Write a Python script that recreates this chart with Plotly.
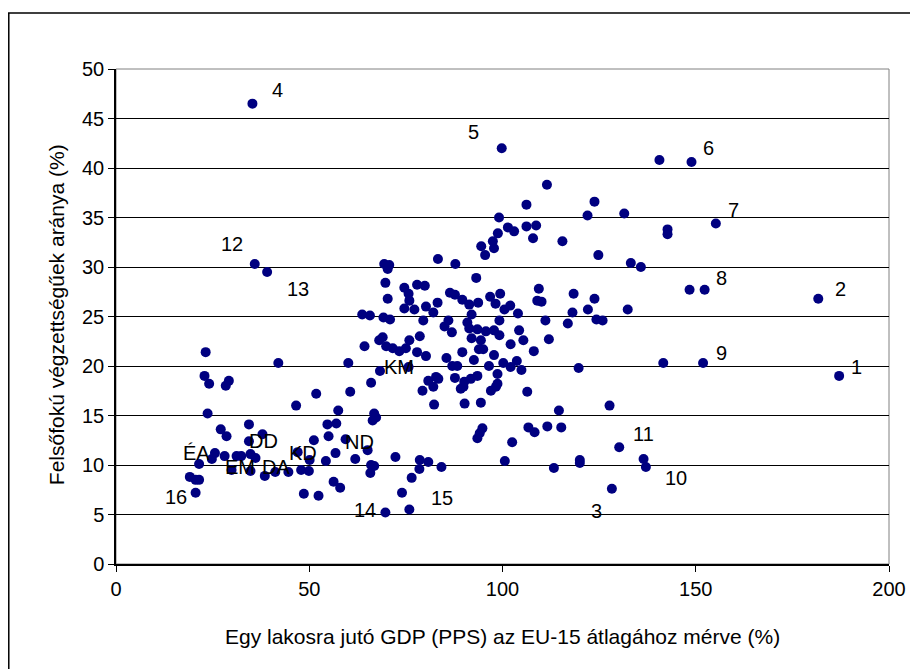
import plotly.graph_objects as go

# GDP per capita (PPS, EU-15 = 100) for each region
gdp = [
    23.2, 22.9, 24.1, 42.0, 60.1, 29.2, 28.4, 51.8, 60.6, 23.7,
    46.6, 57.5, 34.4, 54.7, 57.0, 27.1, 28.6, 37.9, 55.0, 51.2,
    34.4, 59.4, 25.6, 24.8, 28.1, 31.2, 32.4, 34.8, 36.1, 47.0,
    50.1, 56.8, 54.3, 61.9, 21.5, 29.9, 34.8, 38.5, 41.2, 44.6,
    47.9, 49.9, 19.1, 20.6, 21.5, 20.6, 48.6, 52.4, 56.3, 58.0,
    94.5, 97.8, 95.5, 83.3, 87.8, 69.4, 70.7, 70.3, 93.2, 69.7,
    74.6, 77.9, 79.9, 75.7, 70.3, 75.9, 74.6, 77.2, 80.2, 82.1,
    83.2, 86.4, 87.7, 89.6, 91.4, 93.7, 96.8, 99.4, 98.2, 100.5,
    102.0, 104.0, 92.0, 63.7, 65.7, 69.2, 70.9, 79.5, 86.0, 85.0,
    86.9, 90.9, 91.4, 99.2, 93.5, 95.7, 97.8, 99.2, 104.3, 92.0,
    94.4, 105.4, 78.6, 68.1, 69.0, 64.3, 69.9, 71.6, 73.3, 75.0,
    75.9, 77.9, 80.2, 89.6, 93.9, 97.8, 102.1, 108.1, 85.5, 92.6,
    87.0, 88.3, 96.5, 100.2, 102.1, 103.7, 104.9, 75.7, 68.3, 66.0,
    80.8, 82.8, 82.1, 83.4, 79.3, 82.3, 87.7, 90.1, 91.8, 93.5,
    89.2, 90.2, 94.4, 98.7, 98.7, 97.0, 106.4, 109.0, 109.4, 95.0,
    89.9, 98.3, 99.8, 111.5, 106.2, 123.8, 122.0, 131.5, 99.1, 101.4,
    103.0, 106.2, 108.7, 107.9, 98.8, 97.5, 115.5, 124.8, 133.2, 135.8,
    110.1, 118.4, 123.8, 132.4, 122.1, 118.1, 111.1, 116.9, 124.3, 125.9,
    66.8, 67.3, 66.4, 65.1, 66.0, 66.8, 65.8, 72.3, 78.6, 80.8,
    78.5, 84.2, 76.5, 74.0, 75.9, 69.7, 100.6, 102.5, 93.5, 94.1,
    94.8, 106.7, 108.3, 111.6, 115.2, 114.6, 113.3, 120.0, 120.0, 119.7,
    127.7, 128.3, 148.4, 152.3, 112.0, 141.6, 151.9, 130.2, 136.5, 137.1,
    140.6, 148.9, 155.2, 142.7, 142.7, 181.7, 35.3, 35.9, 39.1, 187.1,
]

# Share of population with tertiary education (%)
tertiary = [
    21.4, 19.0, 18.2, 20.3, 20.3, 18.5, 18.0, 17.2, 17.4, 15.2,
    16.0, 15.5, 14.1, 14.1, 14.2, 13.6, 12.9, 13.1, 12.9, 12.5,
    12.4, 12.6, 11.2, 10.6, 10.9, 10.9, 10.9, 11.1, 10.7, 11.3,
    10.5, 11.2, 10.4, 10.6, 10.1, 9.5, 9.4, 8.9, 9.3, 9.3,
    9.5, 9.4, 8.8, 8.5, 8.5, 7.2, 7.1, 6.9, 8.3, 7.7,
    32.1, 31.9, 31.2, 30.8, 30.3, 30.3, 30.2, 29.8, 28.9, 28.4,
    27.9, 28.2, 28.1, 27.3, 26.8, 26.6, 25.8, 25.7, 26.0, 25.4,
    26.4, 27.4, 27.2, 26.7, 26.2, 26.4, 27.0, 27.3, 26.3, 25.7,
    26.1, 25.3, 25.2, 25.2, 25.1, 24.9, 24.7, 24.6, 24.6, 24.0,
    23.4, 24.4, 23.8, 24.6, 23.7, 23.5, 23.6, 23.1, 23.6, 22.8,
    22.6, 22.6, 23.0, 22.6, 22.9, 22.0, 22.0, 21.8, 21.5, 21.8,
    22.6, 21.4, 21.0, 21.4, 21.7, 21.1, 22.2, 21.5, 20.8, 20.6,
    20.0, 20.0, 20.0, 20.3, 19.9, 20.5, 19.6, 19.9, 19.5, 18.3,
    18.5, 18.9, 17.9, 18.7, 17.5, 16.1, 18.8, 18.4, 18.7, 19.0,
    17.7, 16.2, 16.3, 19.2, 18.2, 17.5, 17.4, 26.6, 27.8, 21.7,
    17.9, 17.9, 42.0, 38.3, 36.3, 36.6, 35.2, 35.4, 35.0, 34.0,
    33.6, 34.1, 34.2, 32.9, 33.4, 32.6, 32.6, 31.2, 30.4, 30.0,
    26.5, 27.3, 26.8, 25.7, 25.7, 25.4, 24.6, 24.3, 24.7, 24.6,
    15.2, 14.8, 14.5, 11.5, 10.0, 9.9, 9.2, 10.8, 10.5, 10.3,
    9.6, 9.8, 8.7, 7.2, 5.5, 5.2, 10.4, 12.3, 12.7, 13.2,
    13.7, 13.8, 13.3, 13.9, 13.8, 15.5, 9.7, 10.5, 10.2, 19.8,
    16.0, 7.6, 27.7, 27.7, 22.7, 20.3, 20.3, 11.8, 10.6, 9.8,
    40.8, 40.6, 34.4, 33.8, 33.3, 26.8, 46.5, 30.3, 29.5, 19.0,
]

# Point labels (text and the data position of the text)
label_text = ["1", "2", "3", "4", "5", "6", "7", "8", "9", "10", "11",
              "12", "13", "14", "15", "16", "ÉA", "EM", "DD", "DA", "KD", "ND", "KM"]
label_x = [191.5, 187.4, 124.4, 41.8, 92.6, 153.3, 159.7, 156.6, 156.6, 144.8, 136.5,
           29.9, 47.2, 64.5, 84.4, 15.5, 20.9, 32.0, 38.1, 41.5, 48.3, 63.0, 73.3]
label_y = [19.9, 27.8, 5.4, 47.9, 43.6, 42.0, 35.8, 28.9, 21.3, 8.7, 13.1,
           32.3, 27.8, 5.5, 6.7, 6.8, 11.2, 9.8, 12.4, 9.8, 11.2, 12.3, 19.9]

x_ticks = [0, 50, 100, 150, 200]
y_ticks = [0, 5, 10, 15, 20, 25, 30, 35, 40, 45, 50]

x_title = "Egy lakosra jutó GDP (PPS) az EU-15 átlagához mérve (%)"
y_title = "Felsőfokú végzettségűek aránya (%)"

FONT = "Liberation Sans, Arial, sans-serif"

fig = go.Figure()
fig.add_trace(go.Scatter(
    x=gdp, y=tertiary, mode="markers",
    marker=dict(color="#000080", size=10, line=dict(width=0)),
    hoverinfo="x+y", showlegend=False,
))

for t, lx, ly in zip(label_text, label_x, label_y):
    fig.add_annotation(x=lx, y=ly, text=t, showarrow=False,
                       xanchor="center", yanchor="middle",
                       font=dict(family=FONT, size=20, color="black"))

# axis titles
fig.add_annotation(xref="paper", yref="paper", x=0.4994, y=-0.1455, text=x_title,
                   showarrow=False, xanchor="center", yanchor="middle",
                   font=dict(family=FONT, size=21, color="black"))
fig.add_annotation(xref="paper", yref="paper", x=-0.0774, y=0.503, text=y_title,
                   showarrow=False, xanchor="center", yanchor="middle", textangle=-90,
                   font=dict(family=FONT, size=21, color="black"))

# plot area border (gray) and outer chart frame
fig.add_shape(type="rect", xref="paper", yref="paper", x0=0, y0=0, x1=1, y1=1,
              line=dict(color="#808080", width=1), layer="below")
fig.add_shape(type="rect", xref="paper", yref="paper", x0=-0.1387, y0=1.113, x1=1.08, y1=-0.26,
              line=dict(color="black", width=1.5), layer="below")

fig.update_xaxes(
    range=[0, 200], tickvals=x_ticks, ticks="outside", ticklen=6, tickcolor="black",
    showgrid=False, zeroline=False, showline=True, linecolor="black", linewidth=1.5,
    tickfont=dict(family=FONT, size=20, color="black"), fixedrange=True,
)
fig.update_yaxes(
    range=[0, 50], tickvals=y_ticks, ticks="outside", ticklen=6, tickcolor="black",
    showgrid=True, gridcolor="black", gridwidth=1, zeroline=False,
    showline=True, linecolor="black", linewidth=1.5,
    tickfont=dict(family=FONT, size=20, color="black"), fixedrange=True,
)

# the page adds an 8px body margin, so the figure is sized and offset to compensate
fig.update_layout(
    width=910, height=661,
    margin=dict(l=108, r=27, t=61, b=105),
    paper_bgcolor="white", plot_bgcolor="white",
    font=dict(family=FONT, size=20, color="black"),
)

fig.write_html("out.html", config={"displayModeBar": False})
